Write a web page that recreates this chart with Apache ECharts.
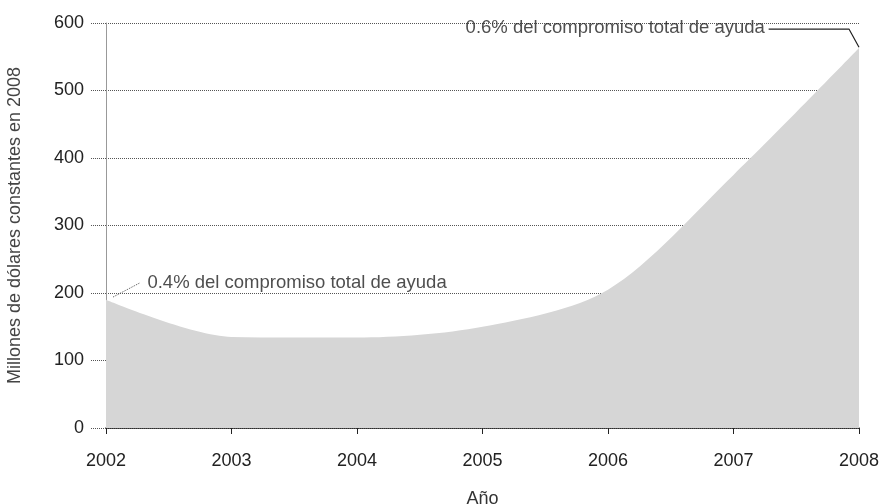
<!DOCTYPE html>
<html><head><meta charset="utf-8">
<script src="https://cdn.jsdelivr.net/npm/echarts@6/dist/echarts.min.js"></script>
<style>html,body{margin:0;padding:0;background:#fff}#c{width:880px;height:504px}</style>
</head><body><div id="c"></div>
<script>
var years = [2002, 2003, 2004, 2005, 2006, 2007, 2008];
var values = [190, 135, 134, 150, 205, 375, 563];
var yTicks = [0, 100, 200, 300, 400, 500, 600];
var yAxisTitle = 'Millones de dólares constantes en 2008';
var xAxisTitle = 'Año';
var note1 = '0.4% del compromiso total de ayuda';
var note2 = '0.6% del compromiso total de ayuda';
var leader1 = [[2002.056, 194], [2002.27, 215]];
var leader2 = [[2007.28, 591], [2007.92, 591], [2008, 564]];
var note1Pos = [2002.33, 215];
var note2Pos = [2007.25, 592];

var chart = echarts.init(document.getElementById('c'));
var font = 'Liberation Sans, Arial, sans-serif';
chart.setOption({
  animation: false,
  grid: {left: 106, right: 21, top: 23, bottom: 76, containLabel: false, outerBoundsMode: 'none'},
  xAxis: {
    type: 'value', min: years[0], max: years[years.length - 1], interval: 1,
    name: xAxisTitle, nameLocation: 'middle', nameGap: 62,
    nameTextStyle: {fontFamily: font, fontSize: 18, color: '#333'},
    axisLine: {lineStyle: {color: '#222', width: 1.5}},
    axisTick: {length: 6, lineStyle: {color: '#222'}},
    axisLabel: {margin: 24, fontFamily: font, fontSize: 18, color: '#222', formatter: function (v) { return String(v); }},
    splitLine: {show: false}
  },
  yAxis: {
    type: 'value', min: yTicks[0], max: yTicks[yTicks.length - 1], interval: 100,
    name: yAxisTitle, nameLocation: 'middle', nameGap: 82,
    nameTextStyle: {fontFamily: font, fontSize: 18, color: '#444'},
    axisLine: {show: true, lineStyle: {color: '#999', width: 1}},
    axisTick: {show: true, length: 16, lineStyle: {color: '#555', type: 'dotted'}},
    axisLabel: {margin: 22, fontFamily: font, fontSize: 18, color: '#222'},
    splitLine: {show: true, lineStyle: {color: '#555', type: 'dotted', width: 1}}
  },
  series: [
    {
      type: 'line', data: years.map(function (y, i) { return [y, values[i]]; }),
      smooth: 0.3, symbol: 'none',
      lineStyle: {width: 0},
      areaStyle: {color: '#d6d6d6', opacity: 1},
      z: 1
    },
    {
      type: 'line', data: leader1, symbol: 'none', silent: true,
      lineStyle: {color: '#555', width: 1, type: 'dotted'}, z: 3
    },
    {
      type: 'line', data: leader2, symbol: 'none', silent: true,
      lineStyle: {color: '#222', width: 1.2}, z: 3
    },
    {
      type: 'scatter', symbolSize: 0, silent: true, z: 4,
      data: [
        {value: note1Pos, label: {show: true, position: 'right', distance: 0, formatter: note1}},
        {value: note2Pos, label: {show: true, position: 'left', distance: 0, formatter: note2}}
      ],
      label: {fontFamily: font, fontSize: 18.5, color: '#222'}
    }
  ]
});
</script></body></html>
